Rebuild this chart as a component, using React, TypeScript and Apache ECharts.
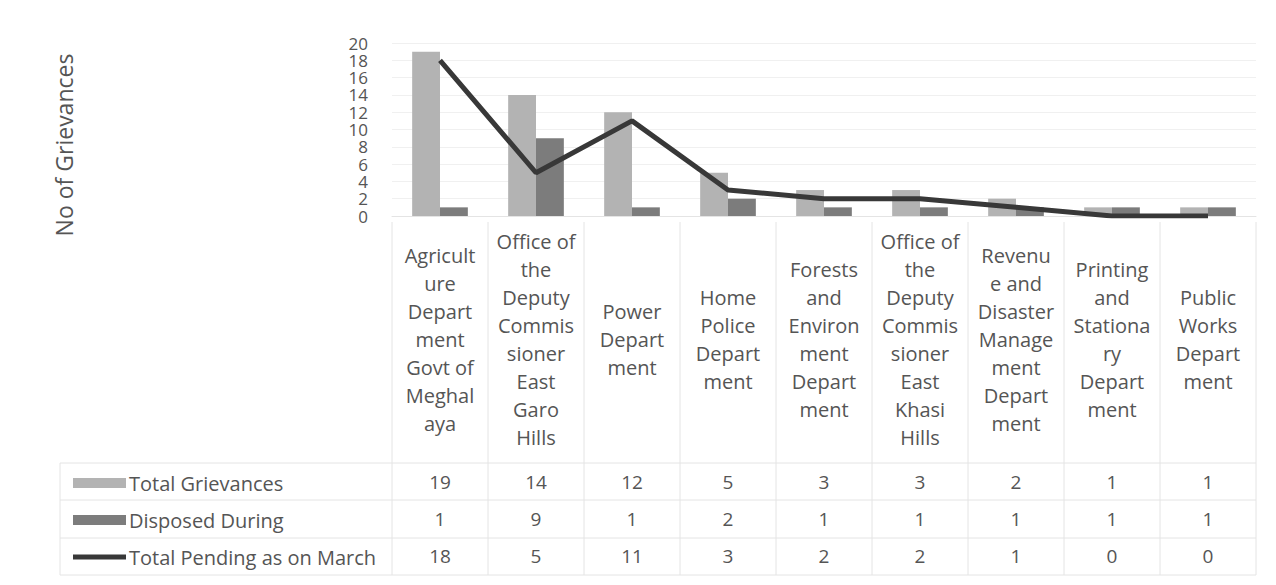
import React, { useEffect, useRef } from "react";
import * as echarts from "echarts";

const categories = [
  "Agricult\nure\nDepart\nment\nGovt of\nMeghal\naya",
  "Office of\nthe\nDeputy\nCommis\nsioner\nEast\nGaro\nHills",
  "Power\nDepart\nment",
  "Home\nPolice\nDepart\nment",
  "Forests\nand\nEnviron\nment\nDepart\nment",
  "Office of\nthe\nDeputy\nCommis\nsioner\nEast\nKhasi\nHills",
  "Revenu\ne and\nDisaster\nManage\nment\nDepart\nment",
  "Printing\nand\nStationa\nry\nDepart\nment",
  "Public\nWorks\nDepart\nment",
];
const totalGrievances = [19, 14, 12, 5, 3, 3, 2, 1, 1];
const disposedDuring = [1, 9, 1, 2, 1, 1, 1, 1, 1];
const totalPending = [18, 5, 11, 3, 2, 2, 1, 0, 0];
const seriesNames = ["Total Grievances", "Disposed During", "Total Pending as on March"];
const yTitle = "No of Grievances";

const FONT = "'Open Sans', 'DejaVu Sans', sans-serif";
const TXT = "#555";

export default function App() {
  const ref = useRef<HTMLDivElement>(null);
  useEffect(() => {
    if (!ref.current) return;
    const chart = echarts.init(ref.current, null, { renderer: "svg" });
    const gridLeft = 392;
    const gridRight = 1256;
    const zeroY = 216;
    const band = (gridRight - gridLeft) / categories.length;
    const rowY = [482, 519, 556];

    const tableAxis = (vals: number[], y: number) => ({
      type: "category",
      data: vals.map(String),
      position: "bottom",
      offset: y - zeroY,
      axisLine: { show: false },
      axisTick: { show: false },
      axisLabel: { margin: 0, verticalAlign: "middle", fontSize: 19, color: TXT, fontFamily: FONT, interval: 0 },
    });

    const graphics: any[] = [];
    const lc = "#e4e4e4";
    for (let k = 0; k <= categories.length; k++) {
      const x = gridLeft + k * band;
      graphics.push({ type: "line", shape: { x1: x, y1: 222, x2: x, y2: 575 }, style: { stroke: lc, lineWidth: 1 }, silent: true });
    }
    [463, 500, 538, 575].forEach((y) =>
      graphics.push({ type: "line", shape: { x1: 60, y1: y, x2: gridRight, y2: y }, style: { stroke: lc, lineWidth: 1 }, silent: true })
    );
    graphics.push({ type: "line", shape: { x1: 60, y1: 463, x2: 60, y2: 575 }, style: { stroke: lc, lineWidth: 1 }, silent: true });
    graphics.push({
      type: "text",
      x: 64,
      y: 145,
      rotation: Math.PI / 2,
      style: { text: yTitle, fontSize: 23, fill: TXT, fontFamily: FONT, align: "center", verticalAlign: "middle" },
      silent: true,
    });

    const legendAt = (name: string, y: number, isLine: boolean) => ({
      data: [{ name, icon: "rect" }],
      orient: "horizontal",
      left: 68,
      top: y - 14,
      itemWidth: 53,
      itemHeight: isLine ? 5 : 10,
      itemGap: 4,
      selectedMode: false,
      textStyle: { fontSize: 20, color: TXT, fontFamily: FONT, padding: [0, 0, 0, -2] },
    });

    chart.setOption({
      animation: false,
      backgroundColor: "#fff",
      grid: { left: gridLeft, right: 1276 - gridRight, top: 43, bottom: 585 - zeroY, containLabel: false },
      legend: [
        legendAt(seriesNames[0], rowY[0], false),
        legendAt(seriesNames[1], rowY[1], false),
        legendAt(seriesNames[2], rowY[2], true),
      ],
      graphic: graphics,
      xAxis: [
        {
          type: "category",
          data: categories,
          axisLine: { show: true, lineStyle: { color: "#e4e4e4" } },
          axisTick: { show: false },
          axisLabel: {
            interval: 0,
            margin: 123,
            verticalAlign: "middle",
            align: "center",
            fontSize: 20,
            lineHeight: 28,
            color: TXT,
            fontFamily: FONT,
          },
        },
        tableAxis(totalGrievances, rowY[0]),
        tableAxis(disposedDuring, rowY[1]),
        tableAxis(totalPending, rowY[2]),
      ],
      yAxis: {
        type: "value",
        min: 0,
        max: 20,
        interval: 2,
        axisLine: { show: false },
        axisTick: { show: false },
        splitLine: { show: true, lineStyle: { color: "#f0f0f0" } },
        axisLabel: {
          fontSize: 17,
          lineHeight: 17,
          color: TXT,
          fontFamily: FONT,
          margin: 24,
          showMinLabel: true,
          showMaxLabel: true,
          hideOverlap: false,
        },
      },
      series: [
        {
          name: seriesNames[0],
          type: "bar",
          data: totalGrievances,
          barGap: "0%",
          barCategoryGap: "42%",
          itemStyle: { color: "#b3b3b3" },
        },
        {
          name: seriesNames[1],
          type: "bar",
          data: disposedDuring,
          itemStyle: { color: "#7c7c7c" },
        },
        {
          name: seriesNames[2],
          type: "line",
          data: totalPending,
          symbol: "none",
          lineStyle: { color: "#383838", width: 5 },
          itemStyle: { color: "#383838" },
          z: 5,
        },
      ],
    });
    return () => chart.dispose();
  }, []);
  return <div ref={ref} style={{ width: 1276, height: 585, position: "fixed", left: 0, top: 0 }} />;
}
